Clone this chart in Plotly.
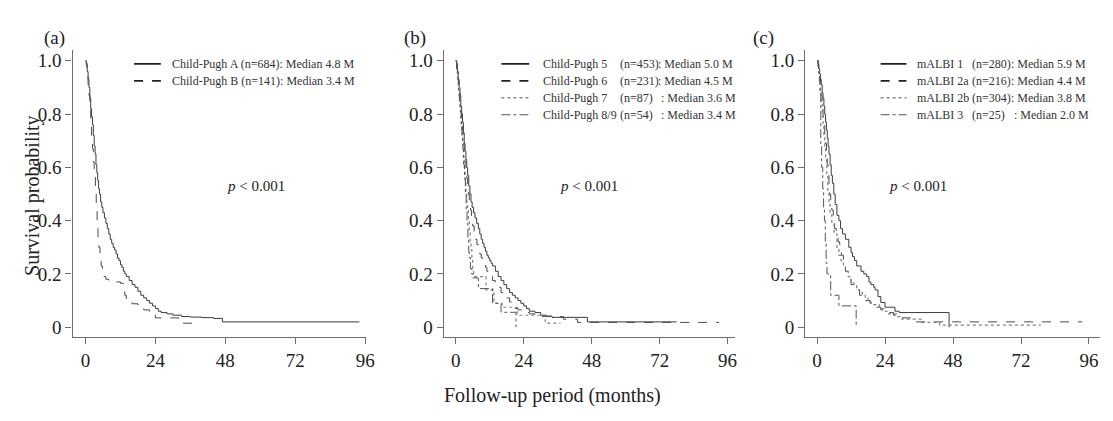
import plotly.graph_objects as go

# The page body has an 8px default margin, so the figure is drawn 8px in from the top-left.
OFF = 8
W, H = 1113 - OFF, 421 - OFF

# ---------------- Data ----------------
# Panel (a): Child-Pugh A / B
cpA_t = [0, 0.3, 0.6, 0.9, 1.2, 1.5, 1.8, 2.1, 2.4, 2.7, 3.0, 3.3, 3.6, 3.9, 4.2, 4.5, 4.8, 5.2, 5.6, 6.0, 6.5, 7.0, 7.5, 8.0, 8.5, 9.0, 9.5, 10, 10.5, 11, 11.5, 12, 12.5, 13, 13.5, 14, 15, 16, 17, 18, 19, 20, 21, 22, 23, 24, 25, 26, 28, 30, 33, 36, 40, 44, 47, 94]
cpA_s = [1, 0.99, 0.96, 0.93, 0.90, 0.86, 0.82, 0.79, 0.76, 0.72, 0.68, 0.65, 0.61, 0.58, 0.55, 0.52, 0.50, 0.47, 0.45, 0.43, 0.41, 0.39, 0.37, 0.35, 0.33, 0.315, 0.30, 0.29, 0.275, 0.26, 0.25, 0.235, 0.225, 0.21, 0.20, 0.19, 0.175, 0.16, 0.15, 0.135, 0.12, 0.11, 0.10, 0.09, 0.08, 0.07, 0.06, 0.055, 0.05, 0.045, 0.04, 0.038, 0.036, 0.033, 0.02, 0.02]
cpB_t = [0, 0.3, 0.6, 0.9, 1.2, 1.5, 1.8, 2.1, 2.4, 2.7, 3.0, 3.4, 3.7, 4.0, 4.3, 4.6, 5.0, 5.4, 5.8, 6.2, 7, 8, 9, 10.5, 12, 13, 13.5, 14, 15, 16, 18, 20, 22, 24, 28, 32, 37]
cpB_s = [1, 0.98, 0.95, 0.91, 0.87, 0.82, 0.77, 0.72, 0.67, 0.62, 0.57, 0.50, 0.44, 0.39, 0.34, 0.30, 0.26, 0.23, 0.205, 0.19, 0.18, 0.175, 0.172, 0.17, 0.165, 0.14, 0.12, 0.105, 0.095, 0.088, 0.085, 0.065, 0.06, 0.035, 0.035, 0.015, 0.015]

# Panel (b): Child-Pugh 5 / 6 / 7 / 8-9
cp5_t = [0, 0.3, 0.6, 0.9, 1.2, 1.5, 1.8, 2.1, 2.4, 2.7, 3.0, 3.3, 3.6, 3.9, 4.2, 4.6, 5.0, 5.4, 5.8, 6.3, 6.8, 7.4, 8, 8.5, 9, 9.5, 10, 10.5, 11, 11.5, 12, 12.5, 13, 14, 15, 16, 17, 18, 19, 20, 21, 22, 23, 24, 25, 26, 28, 30, 32, 34, 46.5, 78]
cp5_s = [1, 0.99, 0.96, 0.93, 0.90, 0.87, 0.83, 0.80, 0.77, 0.73, 0.69, 0.66, 0.63, 0.60, 0.57, 0.53, 0.50, 0.47, 0.45, 0.43, 0.41, 0.39, 0.37, 0.35, 0.33, 0.315, 0.30, 0.285, 0.27, 0.26, 0.25, 0.24, 0.23, 0.21, 0.19, 0.175, 0.16, 0.145, 0.13, 0.12, 0.11, 0.10, 0.09, 0.08, 0.07, 0.06, 0.055, 0.045, 0.042, 0.037, 0.02, 0.02]
cp6_t = [0, 0.3, 0.6, 0.9, 1.2, 1.5, 1.8, 2.1, 2.4, 2.7, 3.0, 3.3, 3.6, 3.9, 4.2, 4.5, 4.8, 5.2, 5.6, 6, 6.5, 7, 7.5, 8, 8.5, 9, 9.5, 10, 10.5, 11, 11.5, 12, 13, 14, 15, 16, 17, 18, 19, 20, 21, 22, 24, 26, 28, 30, 38, 43, 93]
cp6_s = [1, 0.98, 0.95, 0.92, 0.88, 0.85, 0.81, 0.77, 0.74, 0.70, 0.66, 0.62, 0.59, 0.56, 0.53, 0.50, 0.47, 0.44, 0.40, 0.38, 0.355, 0.33, 0.31, 0.29, 0.275, 0.26, 0.25, 0.24, 0.225, 0.21, 0.20, 0.19, 0.175, 0.16, 0.15, 0.13, 0.12, 0.11, 0.095, 0.08, 0.07, 0.065, 0.055, 0.05, 0.045, 0.04, 0.03, 0.018, 0.018]
cp7_t = [0, 0.3, 0.6, 0.9, 1.2, 1.5, 1.8, 2.1, 2.4, 2.7, 3.0, 3.3, 3.6, 3.9, 4.2, 4.5, 4.8, 5.1, 5.4, 5.7, 6.0, 6.3, 6.6, 10.7, 13.5, 16.4, 21.7, 31.6, 37]
cp7_s = [1, 0.97, 0.94, 0.90, 0.86, 0.82, 0.78, 0.74, 0.69, 0.64, 0.60, 0.55, 0.50, 0.47, 0.44, 0.40, 0.36, 0.32, 0.29, 0.25, 0.22, 0.20, 0.19, 0.14, 0.09, 0.075, 0.045, 0.015, 0.015]
cp89_t = [0, 0.3, 0.7, 1.0, 1.3, 1.6, 1.9, 2.2, 2.5, 2.8, 3.1, 3.4, 3.7, 4.0, 4.3, 4.6, 4.9, 5.2, 5.6, 6, 8, 13, 16, 21.3]
cp89_s = [1, 0.96, 0.93, 0.89, 0.85, 0.81, 0.76, 0.72, 0.67, 0.61, 0.56, 0.50, 0.44, 0.39, 0.33, 0.28, 0.26, 0.22, 0.20, 0.185, 0.145, 0.09, 0.056, 0.0]

# Panel (c): mALBI grades
m1_t = [0, 0.3, 0.6, 0.9, 1.2, 1.5, 1.8, 2.1, 2.4, 2.7, 3.0, 3.3, 3.6, 3.9, 4.2, 4.6, 5.0, 5.4, 5.9, 6.4, 7, 7.7, 8.3, 9, 10, 11.2, 12, 12.5, 13.2, 14, 15.5, 16.5, 17.5, 18.3, 19, 20, 20.5, 21.5, 22.5, 24, 27.5, 29, 46.6]
m1_s = [1, 0.99, 0.97, 0.95, 0.93, 0.91, 0.88, 0.86, 0.83, 0.80, 0.77, 0.74, 0.71, 0.68, 0.65, 0.61, 0.57, 0.54, 0.50, 0.46, 0.42, 0.40, 0.37, 0.35, 0.33, 0.30, 0.28, 0.265, 0.25, 0.23, 0.21, 0.20, 0.19, 0.17, 0.16, 0.15, 0.14, 0.115, 0.093, 0.075, 0.06, 0.055, 0.0]
m2a_t = [0, 0.3, 0.6, 0.9, 1.2, 1.5, 1.8, 2.1, 2.4, 2.7, 3.0, 3.3, 3.6, 3.9, 4.2, 4.4, 4.8, 5.2, 5.7, 6.2, 6.8, 7.4, 8, 8.6, 9.3, 10, 11, 12, 13.4, 15, 16.5, 18.7, 20.5, 22.5, 24.6, 27, 30, 33, 93.6]
m2a_s = [1, 0.98, 0.96, 0.93, 0.90, 0.87, 0.83, 0.79, 0.76, 0.72, 0.69, 0.65, 0.61, 0.57, 0.53, 0.50, 0.47, 0.44, 0.40, 0.37, 0.34, 0.32, 0.30, 0.27, 0.23, 0.21, 0.18, 0.16, 0.14, 0.12, 0.10, 0.09, 0.075, 0.065, 0.055, 0.045, 0.035, 0.02, 0.02]
m2b_t = [0, 0.3, 0.6, 0.9, 1.2, 1.5, 1.8, 2.1, 2.4, 2.7, 3.0, 3.4, 3.8, 4.2, 4.6, 5.2, 6, 7, 7.7, 8.5, 9.3, 10, 11, 12, 13, 14, 15, 16, 17, 18, 19, 20, 22, 23.5, 25, 28, 30, 37, 43.3, 79]
m2b_s = [1, 0.98, 0.95, 0.92, 0.88, 0.84, 0.80, 0.76, 0.72, 0.68, 0.63, 0.57, 0.50, 0.46, 0.43, 0.39, 0.35, 0.30, 0.27, 0.25, 0.23, 0.21, 0.19, 0.17, 0.155, 0.14, 0.13, 0.12, 0.11, 0.10, 0.09, 0.085, 0.07, 0.06, 0.05, 0.04, 0.03, 0.018, 0.008, 0.008]
m3_t = [0, 0.5, 0.8, 1.0, 1.3, 1.6, 2.0, 2.3, 2.6, 2.9, 3.2, 3.5, 4.8, 7.7, 13.8]
m3_s = [1, 0.96, 0.92, 0.88, 0.68, 0.60, 0.52, 0.44, 0.40, 0.32, 0.24, 0.20, 0.12, 0.08, 0.0]

panel_labels = ["(a)", "(b)", "(c)"]
legend_a_names = ["Child-Pugh A (n=684): Median 4.8 M", "Child-Pugh B (n=141): Median 3.4 M"]
legend_b_names = ["Child-Pugh 5", "Child-Pugh 6", "Child-Pugh 7", "Child-Pugh 8/9"]
legend_b_n = ["(n=453)", "(n=231)", "(n=87)", "(n=54)"]
legend_b_med = [": Median 5.0 M", ": Median 4.5 M", "\u00a0: Median 3.6 M", "\u00a0: Median 3.4 M"]
legend_c_names = ["mALBI 1", "mALBI 2a", "mALBI 2b", "mALBI 3"]
legend_c_n = ["(n=280)", "(n=216)", "(n=304)", "(n=25)"]
legend_c_med = [": Median 5.9 M", ": Median 4.4 M", ": Median 3.8 M", "\u00a0: Median 2.0 M"]
p_text = "<i>p</i> &lt; 0.001"

x_tickvals = [0, 24, 48, 72, 96]
y_tickvals = [0, 0.2, 0.4, 0.6, 0.8, 1.0]
y_ticktext = ["0", "0.2", "0.4", "0.6", "0.8", "1.0"]

# ---------------- Styles ----------------
FONT = "Liberation Serif, Times New Roman, serif"
styles = [
    dict(dash="solid", color="#3c3c3c", width=1.0),
    dict(dash="dash", color="#4a4a4a", width=1.0),
    dict(dash="dot", color="#808080", width=1.2),
    dict(dash="dashdot", color="#555555", width=1.0),
]
leg_styles = [
    dict(dash="solid", color="#222222", width=1.8),
    dict(dash="dash", color="#222222", width=1.8),
    dict(dash="dot", color="#888888", width=1.6),
    dict(dash="dashdot", color="#555555", width=1.0),
]

# page-pixel -> paper fraction
def px(x):
    return (x - OFF) / W

def py(y):
    return 1 - (y - OFF) / H

panels = [
    dict(ax="", dom=(73, 369), xr=(-4.44, 96.4), curves=[(cpA_t, cpA_s), (cpB_t, cpB_s)]),
    dict(ax="2", dom=(447, 740), xr=(-4.2, 98.5), curves=[(cp5_t, cp5_s), (cp6_t, cp6_s), (cp7_t, cp7_s), (cp89_t, cp89_s)]),
    dict(ax="3", dom=(811, 1108), xr=(-4.2, 99.9), curves=[(m1_t, m1_s), (m2a_t, m2a_s), (m2b_t, m2b_s), (m3_t, m3_s)]),
]

fig = go.Figure()
layout = dict(
    width=W, height=H,
    margin=dict(l=0, r=0, t=0, b=0),
    paper_bgcolor="white", plot_bgcolor="white",
    showlegend=False,
    font=dict(family=FONT, color="#222222"),
)

ydom = (py(338), py(50))
yr = (-0.0375, 1.041)
for p in panels:
    ax = p["ax"]
    for i, (t, s) in enumerate(p["curves"]):
        st = styles[i]
        fig.add_trace(go.Scatter(
            x=t, y=s, mode="lines", line_shape="hv",
            line=dict(color=st["color"], width=st["width"], dash=st["dash"]),
            xaxis="x" + ax, yaxis="y" + ax, hoverinfo="skip",
        ))
    layout["xaxis" + ax] = dict(
        domain=[px(p["dom"][0]), px(p["dom"][1])], range=list(p["xr"]),
        anchor="y" + ax, showgrid=False, zeroline=False,
        showline=True, linecolor="#6e6e6e", linewidth=1.3,
        ticks="outside", ticklen=6, tickcolor="#6e6e6e", tickwidth=1.2,
        tickvals=x_tickvals, tickfont=dict(size=19, family=FONT, color="#222222"),
    )
    layout["yaxis" + ax] = dict(
        domain=list(ydom), range=list(yr),
        anchor="x" + ax, showgrid=False, zeroline=False,
        showline=True, linecolor="#6e6e6e", linewidth=1.3,
        ticks="outside", ticklen=6, tickcolor="#6e6e6e", tickwidth=1.2,
        tickvals=y_tickvals, ticktext=y_ticktext,
        tickfont=dict(size=19, family=FONT, color="#222222"),
    )

annotations = []
shapes = []

# panel labels
for lab, xc in zip(panel_labels, [42, 418, 782]):
    annotations.append(dict(text=lab, x=px(xc), y=py(25), xref="paper", yref="paper",
                            showarrow=False, font=dict(size=19, family=FONT, color="#222222")))

# p-values
for xc in [227, 593, 956]:
    annotations.append(dict(text=p_text, x=px(xc), y=py(186), xref="paper", yref="paper",
                            showarrow=False, font=dict(size=15, family=FONT, color="#222222")))

# axis titles
annotations.append(dict(text="Survival probability", x=px(19), y=py(196), xref="paper", yref="paper",
                        showarrow=False, textangle=-90, font=dict(size=20, family=FONT, color="#222222")))
annotations.append(dict(text="Follow-up period (months)", x=px(556), y=py(410), xref="paper", yref="paper",
                        showarrow=False, font=dict(size=20, family=FONT, color="#222222")))

LFONT = dict(size=12, family=FONT, color="#333333")
leg_y = [64, 81, 98, 115]

def leg_line(x0, x1, yy, st):
    shapes.append(dict(type="line", xref="paper", yref="paper",
                       x0=px(x0), x1=px(x1), y0=py(yy), y1=py(yy),
                       line=dict(color=st["color"], width=st["width"], dash=st["dash"])))

def leg_text(txt, x0, yy):
    annotations.append(dict(text=txt, x=px(x0), y=py(yy), xref="paper", yref="paper",
                            xanchor="left", yanchor="middle", showarrow=False, font=LFONT,
                            borderpad=0))

# legend (a)
for i, name in enumerate(legend_a_names):
    leg_line(135, 162, leg_y[i], leg_styles[i])
    leg_text(name, 172, leg_y[i])

# legend (b)
for i in range(4):
    leg_line(505, 533, leg_y[i], leg_styles[i])
    leg_text(legend_b_names[i], 546, leg_y[i])
    leg_text(legend_b_n[i], 623, leg_y[i])
    leg_text(legend_b_med[i], 662, leg_y[i])

# legend (c)
for i in range(4):
    leg_line(887, 913, leg_y[i], leg_styles[i])
    leg_text(legend_c_names[i], 923, leg_y[i])
    leg_text(legend_c_n[i], 978, leg_y[i])
    leg_text(legend_c_med[i], 1017, leg_y[i])

layout["annotations"] = annotations
layout["shapes"] = shapes
fig.update_layout(**layout)
fig.write_html("out.html")
